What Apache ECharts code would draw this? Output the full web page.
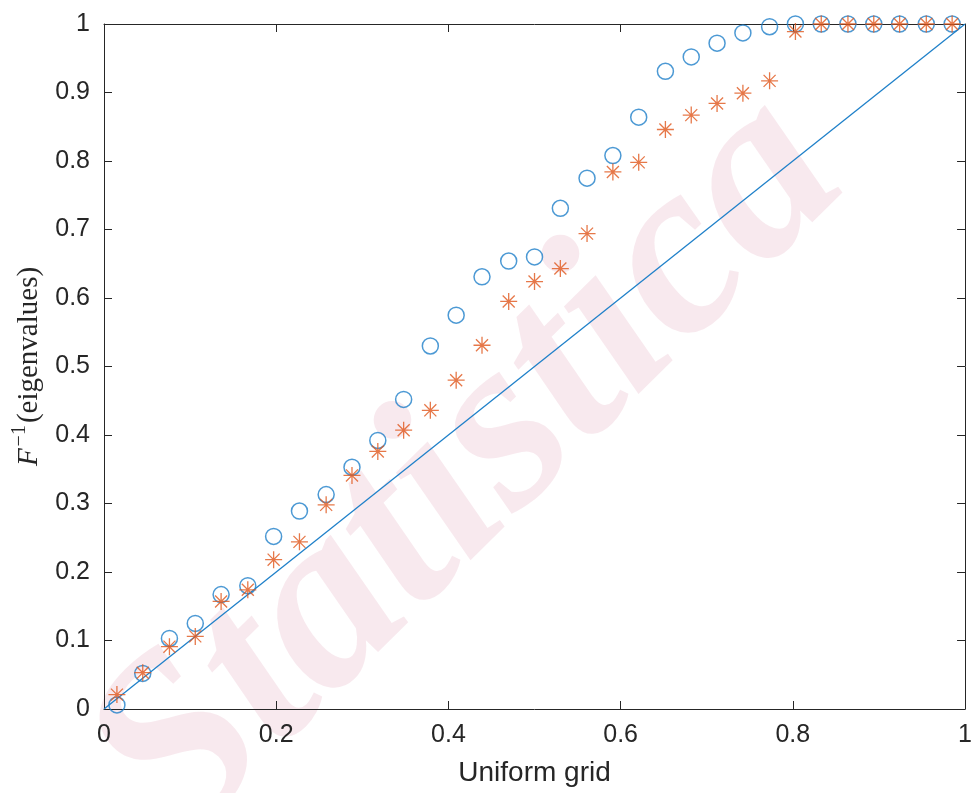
<!DOCTYPE html>
<html>
<head>
<meta charset="utf-8">
<script src="https://cdn.jsdelivr.net/npm/echarts@6/dist/echarts.min.js"></script>
<style>
html,body{margin:0;padding:0;background:#fff;}
#chart{width:975px;height:793px;}
</style>
</head>
<body>
<div id="chart"></div>
<script>
// Uniform grid positions (x)
var xGrid = [0.015,0.045,0.076,0.106,0.136,0.167,0.197,0.227,0.258,0.288,0.318,0.348,0.379,0.409,0.439,0.470,0.500,0.530,0.561,0.591,0.621,0.652,0.682,0.712,0.742,0.773,0.803,0.833,0.864,0.894,0.924,0.955,0.985];
// Blue circles
var circleVals = [0.006,0.052,0.103,0.125,0.167,0.180,0.252,0.289,0.313,0.353,0.392,0.452,0.530,0.575,0.631,0.654,0.660,0.731,0.775,0.808,0.864,0.931,0.952,0.972,0.987,0.996,1,1,1,1,1,1,1];
// Orange asterisks
var starVals = [0.021,0.053,0.091,0.106,0.157,0.174,0.218,0.244,0.298,0.341,0.376,0.407,0.436,0.480,0.531,0.595,0.624,0.643,0.694,0.784,0.798,0.846,0.867,0.884,0.899,0.917,0.989,1,1,1,1,1,1];
// Reference diagonal
var diagX = [0, 1];
var diagY = [0, 1];
var xTicks = [0, 0.2, 0.4, 0.6, 0.8, 1];
var yTicks = [0, 0.1, 0.2, 0.3, 0.4, 0.5, 0.6, 0.7, 0.8, 0.9, 1];

function zip(a, b){ return a.map(function(v, i){ return [v, b[i]]; }); }

var axisColor = '#262626';
var blue = '#1f80c9';
var orange = '#e0561c';
var starPath = 'path://M0,-10L0,10M-10,0L10,0M-7.07,-7.07L7.07,7.07M-7.07,7.07L7.07,-7.07';

var chart = echarts.init(document.getElementById('chart'), null, {renderer:'canvas'});

function baseAxis(pos, ticks, showLabel){
  return {
    type: 'value', position: pos,
    min: ticks[0], max: ticks[ticks.length-1],
    interval: ticks[1] - ticks[0],
    axisLine: {show: true, onZero: false, lineStyle: {color: axisColor, width: 1}},
    axisTick: {show: true, inside: true, length: 8, lineStyle: {color: axisColor, width: 1}},
    splitLine: {show: false},
    axisLabel: {show: showLabel, color: axisColor, fontSize: 25, fontFamily: 'Liberation Sans, Arial, sans-serif', margin: 14},
    axisPointer: {show: false}
  };
}

var xMain = baseAxis('bottom', xTicks, true);
xMain.name = 'Uniform grid';
xMain.nameLocation = 'middle';
xMain.nameGap = 50;
xMain.nameTextStyle = {color: axisColor, fontSize: 28, fontFamily: 'Liberation Sans, Arial, sans-serif'};
var xTop = baseAxis('top', xTicks, false);

var yMain = baseAxis('left', yTicks, true);
yMain.name = '{f|F}{s|−1}{t|(eigenvalues)}';
yMain.nameLocation = 'middle';
yMain.nameGap = 60;
yMain.nameRotate = 90;
yMain.nameTextStyle = {
  color: axisColor,
  rich: {
    f: {fontFamily: 'Liberation Serif, Times New Roman, serif', fontStyle: 'italic', fontSize: 29, color: axisColor, lineHeight: 34, verticalAlign: 'bottom'},
    s: {fontFamily: 'Liberation Serif, Times New Roman, serif', fontSize: 20, color: axisColor, lineHeight: 34, verticalAlign: 'top', padding: [0, 2, 0, 2]},
    t: {fontFamily: 'Liberation Serif, Times New Roman, serif', fontSize: 29, color: axisColor, lineHeight: 34, verticalAlign: 'bottom'}
  }
};
var yRight = baseAxis('right', yTicks, false);

var option = {
  backgroundColor: '#ffffff',
  animation: false,
  grid: {left: 104, right: 5, top: 24, bottom: 84, containLabel: false},
  xAxis: [xMain, xTop],
  yAxis: [yMain, yRight],
  graphic: [{
    type: 'text', z: -10, silent: true,
    x: 470, y: 470, rotation: 0.78,
    style: {
      text: 'Statistica', fill: 'rgba(214,120,150,0.16)',
      font: 'italic bold 250px "Liberation Serif", serif',
      textAlign: 'center', textVerticalAlign: 'middle'
    }
  }],
  series: [
    {
      type: 'line', xAxisIndex: 0, yAxisIndex: 0,
      data: zip(diagX, diagY), showSymbol: false, symbol: 'none',
      lineStyle: {color: blue, width: 1.3}, z: 2, silent: true
    },
    {
      type: 'scatter', xAxisIndex: 0, yAxisIndex: 0, clip: false,
      data: zip(xGrid, circleVals), symbol: 'circle', symbolSize: 16,
      itemStyle: {color: 'rgba(0,0,0,0)', borderColor: blue, borderWidth: 1.5}, z: 3
    },
    {
      type: 'scatter', xAxisIndex: 0, yAxisIndex: 0, clip: false,
      data: zip(xGrid, starVals), symbol: starPath, symbolSize: 17,
      itemStyle: {color: 'rgba(0,0,0,0)', borderColor: orange, borderWidth: 1.3}, z: 4
    }
  ]
};
chart.setOption(option);
</script>
</body>
</html>
